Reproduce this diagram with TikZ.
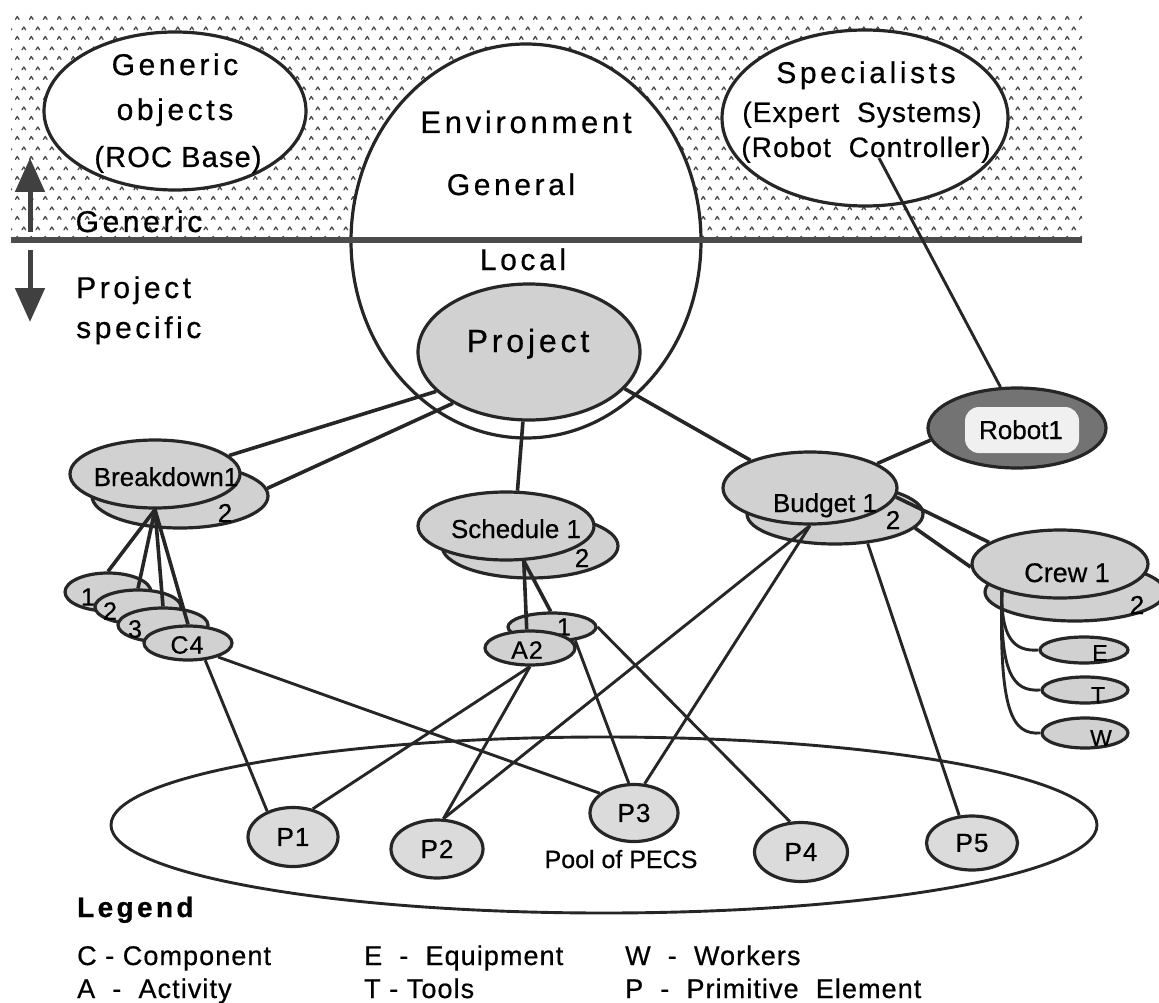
\documentclass[tikz,border=0pt]{standalone}
\usepackage{fontspec}
\setmainfont[FakeBold=0.6]{Liberation Sans}
\newfontfamily\wideA[LetterSpace=12,FakeBold=0.6]{Liberation Sans}
\newfontfamily\wideB[LetterSpace=4,FakeBold=0.6]{Liberation Sans}
\usetikzlibrary{shapes.geometric,patterns.meta,arrows.meta}
\newcommand\myfs[1]{\fontsize{#1}{#1}\selectfont}

\tikzdeclarepattern{
  name=carets,
  type=uncolored,
  bottom left={(0pt,0pt)},
  top right={(14pt,20pt)},
  tile size={(14pt,20pt)},
  code={
    \tikzset{x=1pt,y=1pt}
    \draw[line width=1.4pt,line cap=round,line join=round] (1.6,3.8) -- (3.5,6.8) -- (5.4,3.8);
    \draw[line width=1.4pt,line cap=round,line join=round] (8.6,13.8) -- (10.5,16.8) -- (12.4,13.8);
  }
}

\tikzset{
  bord/.style={draw=black!85, line width=3.2pt},
  ov/.style={ellipse, bord, fill=black!18, inner sep=0pt},
  wov/.style={ellipse, bord, fill=white, inner sep=0pt},
  sz/.style 2 args={minimum width=#1pt, minimum height=#2pt},
  cn/.style={draw=black!85, line width=3.6pt},
  cnt/.style={draw=black!85, line width=2.9pt},
  tx/.style={inner sep=0pt, anchor=base},
  lab/.style={inner sep=0pt, font=\wideB\myfs{25}},
  lg/.style={inner sep=0pt, anchor=base west, font=\wideB\myfs{27}},
  big/.style={tx, font=\wideA\myfs{30}},
  uparr/.style={draw=black!75, line width=5pt, -{Triangle[length=34pt,width=29pt]}},
}

\begin{document}
\begin{tikzpicture}[x=1pt,y=-1pt]
\useasboundingbox (0,0) rectangle (1159,1003);

% ---------- generic / project-specific background ----------
\fill[pattern=carets, pattern color=black!70] (11,12) rectangle (1082,238);
\node[wov, sz={350}{394}] (env) at (526,241) {};
\coordinate (hlA) at (11,240);
\coordinate (hlB) at (1082,240);
\draw[draw=black!70, line width=6pt] (hlA) -- (hlB);

\node[wov, sz={262}{158}] (gen) at (175,111) {};
\node[big] (gen1) at (175,75) {Generic};
\node[big] (gen2) at (175,120) {objects};
\node[tx, font=\wideB\myfs{29}] (gen3) at (178,167) {(ROC Base)};

\node[wov, sz={286}{176}] (spec) at (865,118) {};
\node[big] (spec1) at (866,83) {Specialists};
\node[tx, font=\wideB\myfs{28}] (spec2) at (862,122) {(Expert\ \ Systems)};
\node[tx, font=\wideB\myfs{28}] (spec3) at (866,157) {(Robot\ \ Controller)};
\coordinate (specpt) at (879,158);

\node[big, font=\wideA\myfs{31}] (envt) at (526,133) {Environment};
\node[big] (gent) at (511,195) {General};
\node[big] (loct) at (523,270) {Local};

\coordinate (upA) at (30,232);
\coordinate (upB) at (30,158);
\coordinate (dnA) at (30,250);
\coordinate (dnB) at (30,322);
\draw[uparr] (upA) -- (upB);
\draw[uparr] (dnA) -- (dnB);
\node[big] (genl) at (139,232) {Generic};
\node[tx, anchor=base west, font=\wideA\myfs{30}] (pl1) at (76,298) {Project};
\node[tx, anchor=base west, font=\wideA\myfs{30}] (pl2) at (76,338) {specific};

% ---------- pool ----------
\node[ellipse, bord, line width=2.9pt, sz={986}{176}] (pool) at (604,825) {};
\node[tx, font=\myfs{25}] (poolt) at (621,868) {Pool of PECS};

% ---------- project ----------
\node[ov, sz={222}{136}] (proj) at (529,352) {};
\node[tx, font=\wideA\myfs{32}] (projt) at (528,352) {Project};

% breakdown
\node[ov, sz={176}{64}] (bdB) at (180,496) {};
\node[lab, font=\myfs{26}] (bdBt) at (225,513) {2};
\node[ov, sz={170}{68}] (bdA) at (155,474) {};
\node[tx, font=\myfs{26}] (bdAt) at (166,486) {Breakdown1};

% components
\node[ov, sz={86}{38}] (c1) at (108,592) {};
\node[lab] (c1t) at (88,597) {1};
\node[ov, sz={86}{34}] (c2) at (138,607) {};
\node[lab] (c2t) at (110,611) {2};
\node[ov, sz={90}{34}] (c3) at (163,625) {};
\node[lab] (c3t) at (135,629) {3};
\node[ov, sz={88}{34}] (c4) at (188,643) {};
\node[lab] (c4t) at (187,645) {C4};

% schedule
\node[ov, sz={176}{64}] (schB) at (530,546) {};
\node[lab, font=\myfs{26}] (schBt) at (582,558) {2};
\node[ov, sz={176}{68}] (sch) at (506,526) {};
\node[tx, font=\myfs{26}] (scht) at (516,538) {Schedule 1};

% activities
\node[ov, sz={88}{28}] (a1) at (552,627) {};
\node[lab] (a1t) at (564,627) {1};
\node[ov, sz={90}{34}] (a2) at (530,648) {};
\node[lab] (a2t) at (527,650) {A2};

% budget
\node[ov, sz={176}{60}] (budB) at (835,514) {};
\node[lab, font=\myfs{26}] (budBt) at (893,520) {2};
\node[ov, sz={174}{72}] (bud) at (810,488) {};
\node[tx, font=\myfs{26}] (budt) at (825,512) {Budget 1};

% robot
\node[ellipse, bord, fill=black!55, inner sep=0pt, sz={178}{80}] (rob) at (1017,428) {};
\node[fill=black!6, rounded corners=14pt, inner sep=0pt, minimum width=114pt, minimum height=46pt] (robin) at (1022,430) {};
\node[tx, font=\myfs{26}] (robt) at (1021,439) {Robot1};

% crew
\node[ov, sz={180}{58}] (crwB) at (1075,592) {};
\node[lab, font=\myfs{26}] (crwBt) at (1137,605) {2};
\node[ov, sz={176}{68}] (crw) at (1060,564) {};
\node[tx, font=\myfs{27}] (crwt) at (1067,582) {Crew 1};

\node[ov, sz={88}{26}] (E) at (1084,650) {};
\node[lab, font=\myfs{23}] (Et) at (1100,653) {E};
\node[ov, sz={86}{26}] (T) at (1085,690) {};
\node[lab, font=\myfs{23}] (Tt) at (1098,695) {T};
\node[ov, sz={86}{30}] (W) at (1085,733) {};
\node[lab, font=\myfs{23}] (Wt) at (1101,738) {W};

% primitive elements
\node[ov, fill=black!14, sz={90}{59}, font=\wideB\myfs{26}] (pp1) at (293,837) {P1};
\node[ov, fill=black!14, sz={92}{58}, font=\wideB\myfs{26}] (pp2) at (437,849) {P2};
\node[ov, fill=black!14, sz={88}{57}, font=\wideB\myfs{26}] (pp3) at (634,813) {P3};
\node[ov, fill=black!14, sz={93}{59}, font=\wideB\myfs{26}] (pp4) at (801,852) {P4};
\node[ov, fill=black!14, sz={91}{54}, font=\wideB\myfs{26}] (pp5) at (972,843) {P5};

% ---------- connectors ----------
\draw[cn] (bdA.14) -- (proj.203);
\draw[cn] (bdB.5) -- (proj.214);
\draw[cn] (proj.265) -- (sch.72);
\draw[cn] (proj.339) -- (bud.155);
\draw[cnt] (specpt) -- (rob.112);
\draw[cn] (rob.188) -- (bud.20);
\draw[cn] (bud.-6) -- (crw.163);
\draw[cn] (budB.-10) -- (crw.182);

\draw[cn] (bdA.south) -- (c1.north);
\draw[cn] (bdA.south) -- (c2.north);
\draw[cn] (bdA.south) -- (c3.north);
\draw[cn] (bdA.south) -- (c4.north);

\draw[cn] (sch.-63) -- (a1.95);
\draw[cn] (sch.-63) -- (a2.100);

\draw[cnt] (c4.-45) -- (pp1.135);
\draw[cnt] (c4.-25) -- (pp3.150);
\draw[cnt] (a2.south) -- (pp1.55);
\draw[cnt] (a2.south) -- (pp2.78);
\draw[cnt] (a1.-30) -- (pp3.100);
\draw[cnt] (a1.east) -- (pp4.110);
\draw[cnt] (bud.south) -- (pp2.78);
\draw[cnt] (bud.south) -- (pp3.70);
\draw[cnt] (budB.-42) -- (pp5.115);

\draw[cnt] (crw.205) .. controls (1001,635) and (1012,652) .. (E.west);
\draw[cnt] (crw.205) .. controls (1000,672) and (1012,692) .. (T.west);
\draw[cnt] (crw.205) .. controls (999,712) and (1012,735) .. (W.west);

% ---------- legend ----------
\node[tx, anchor=base west, font=\wideA\bfseries\myfs{28}] (lgd) at (77,917) {Legend};
\node[lg] (lc) at (77,965) {C - Component};
\node[lg] (la) at (77,998) {A \ - \ Activity};
\node[lg] (le) at (364,965) {E \ - \ Equipment};
\node[lg] (lt) at (364,998) {T - Tools};
\node[lg] (lw) at (625,965) {W \ - \ Workers};
\node[lg] (lp) at (625,998) {P \ - \ Primitive\ \ Element};
\end{tikzpicture}
\end{document}
